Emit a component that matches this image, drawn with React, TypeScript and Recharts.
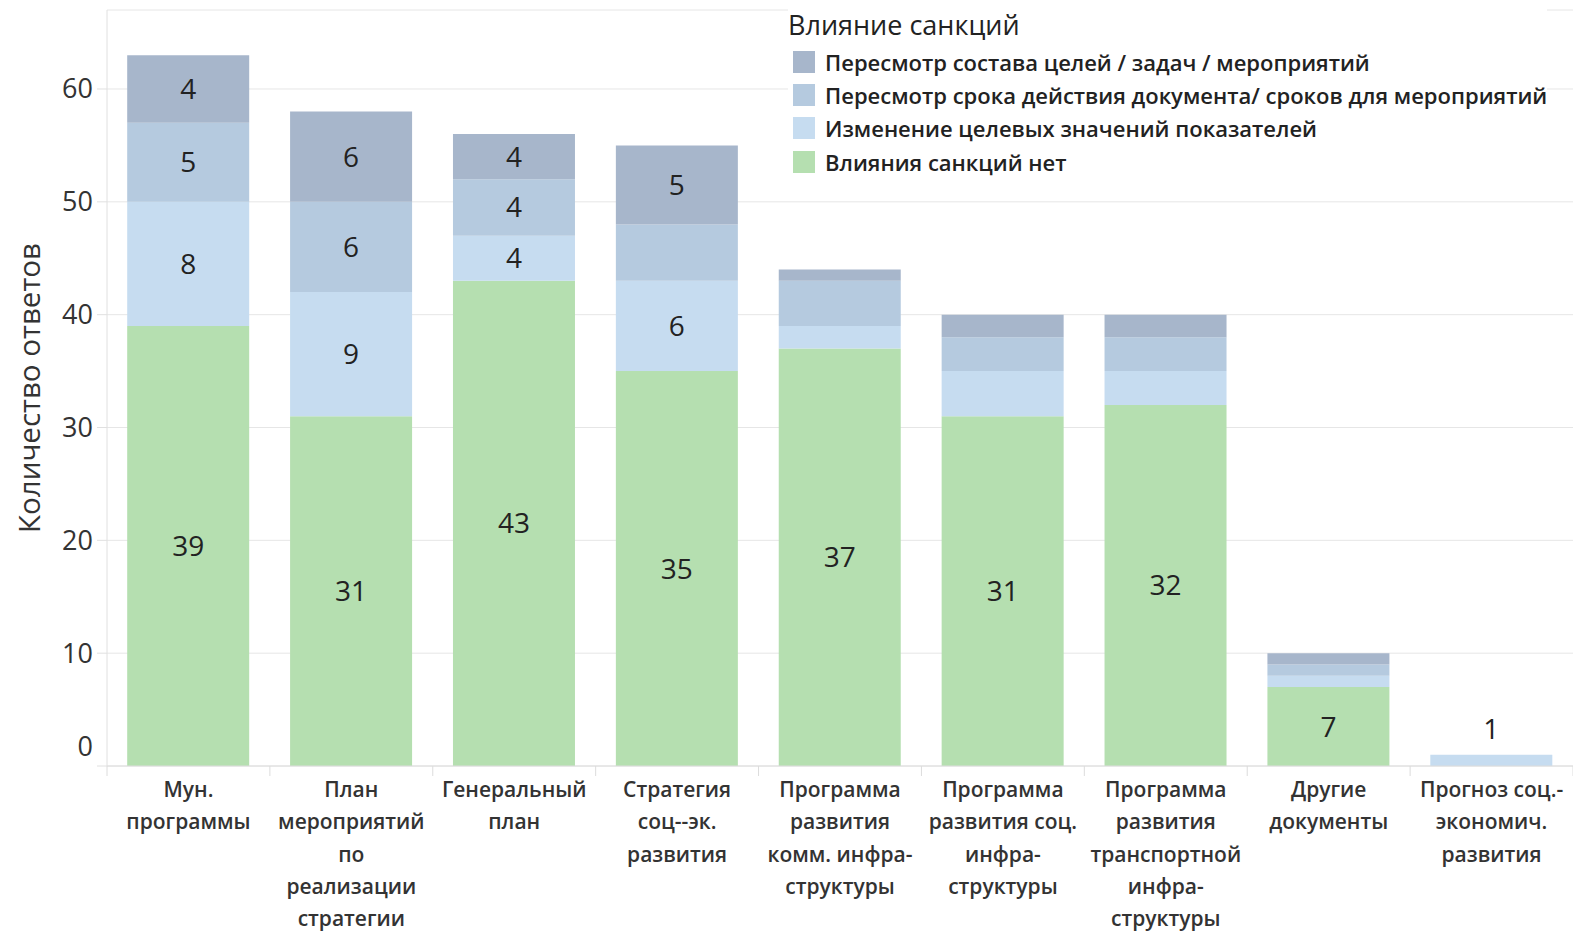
import React from "react";
import { BarChart, Bar, XAxis, YAxis, CartesianGrid, Legend, LabelList, Label } from "recharts";

const categories = [
  "Мун.\nпрограммы",
  "План\nмероприятий\nпо\nреализации\nстратегии",
  "Генеральный\nплан",
  "Стратегия\nсоц--эк.\nразвития",
  "Программа\nразвития\nкомм. инфра-\nструктуры",
  "Программа\nразвития соц.\nинфра-\nструктуры",
  "Программа\nразвития\nтранспортной\nинфра-\nструктуры",
  "Другие\nдокументы",
  "Прогноз соц.-\nэкономич.\nразвития",
];

// segment heights as drawn
const noImpact = [39, 31, 43, 35, 37, 31, 32, 7, 0];
const targetValues = [11, 11, 4, 8, 2, 4, 3, 1, 1];
const termRevision = [7, 8, 5, 5, 4, 3, 3, 1, 0];
const goalsRevision = [6, 8, 4, 7, 1, 2, 2, 1, 0];

// numbers printed on the segments
const noImpactLabels = [39, 31, 43, 35, 37, 31, 32, 7, null];
const targetLabels = [8, 9, 4, 6, null, null, null, null, 1];
const termLabels = [5, 6, 4, null, null, null, null, null, null];
const goalsLabels = [4, 6, 4, 5, null, null, null, null, null];

const yTicks = [0, 10, 20, 30, 40, 50, 60];

// legend order, top to bottom
const legendOrder = [
  "Пересмотр состава целей / задач / мероприятий",
  "Пересмотр срока действия документа/ сроков для мероприятий",
  "Изменение целевых значений показателей",
  "Влияния санкций нет",
];

const data = categories.map((name, i) => ({
  name,
  noImpact: noImpact[i],
  targetValues: targetValues[i],
  termRevision: termRevision[i],
  goalsRevision: goalsRevision[i],
}));

const FONT = "'Open Sans', sans-serif";

const segLabel = (labels: (number | null)[]) => (props: any) => {
  const { x, y, width, height, index } = props;
  const txt = labels[index];
  if (txt == null) return null;
  const above = height < 25;
  const cy = above ? y - 26 : y + height / 2;
  return (
    <text x={x + width / 2} y={cy} dy={10} textAnchor="middle" fontSize={28} fill="#222" fontFamily={FONT}>
      {txt}
    </text>
  );
};

function CategoryTick(props: any) {
  const { x, y, payload, index } = props;
  const half = payload.offset ?? 81.5;
  const lines = String(payload.value).split("\n");
  return (
    <g>
      <line x1={x - half} x2={x - half} y1={y} y2={y + 10} stroke="#dcdcdc" />
      {index === categories.length - 1 && (
        <line x1={x + half} x2={x + half} y1={y} y2={y + 10} stroke="#dcdcdc" />
      )}
      <text x={x} y={y + 31} textAnchor="middle" fontSize={21} fontWeight={600} fill="#333" fontFamily={FONT}>
        {lines.map((l, i) => (
          <tspan key={i} x={x} dy={i === 0 ? 0 : 32.3}>
            {l}
          </tspan>
        ))}
      </text>
    </g>
  );
}

function ValueTick(props: any) {
  const { x, y, payload } = props;
  return (
    <text x={x} y={y + (payload.value === 0 ? -20 : 0)} dy={9.5} textAnchor="end" fontSize={27} fill="#333" fontFamily={FONT}>
      {payload.value}
    </text>
  );
}

const renderLegend = (props: any) => {
  const items = [...(props.payload ?? [])].sort(
    (a: any, b: any) => legendOrder.indexOf(a.value) - legendOrder.indexOf(b.value)
  );
  return (
    <div style={{ background: "#fff", fontFamily: FONT, color: "#222" }}>
      <div style={{ fontSize: 27, lineHeight: "34px" }}>Влияние санкций</div>
      <div style={{ marginTop: 3 }}>
        {items.map((it: any) => (
          <div key={it.value} style={{ display: "flex", alignItems: "center", height: 33.3, paddingLeft: 5 }}>
            <span style={{ width: 22, height: 22, background: it.color, marginRight: 10, display: "inline-block" }} />
            <span style={{ fontSize: 22, fontWeight: 600, whiteSpace: "nowrap" }}>{it.value}</span>
          </div>
        ))}
      </div>
    </div>
  );
};

export default function App() {
  return (
    <div style={{ position: "absolute", left: 0, top: 0, width: 1573, height: 932, background: "#fff" }}>
      <BarChart
        width={1573}
        height={932}
        data={data}
        margin={{ top: 10, right: 0, left: 0, bottom: 0 }}
        barCategoryGap="12.4%"
      >
        <CartesianGrid horizontal vertical={false} stroke="#e6e6e6" />
        <XAxis
          dataKey="name"
          interval={0}
          height={166}
          tickSize={0}
          tickMargin={0}
          tick={<CategoryTick />}
          axisLine={{ stroke: "#dcdcdc" }}
        />
        <YAxis
          width={107}
          domain={[0, 67]}
          ticks={yTicks}
          tickSize={10}
          tickMargin={4}
          tick={<ValueTick />}
          tickLine={{ stroke: "#e0e0e0" }}
          axisLine={{ stroke: "#e0e0e0" }}
        >
          <Label
            content={(p: any) => {
              const vb = p.viewBox;
              const cx = 28;
              const cy = vb.y + vb.height / 2;
              return (
                <text
                  x={cx}
                  y={cy}
                  transform={`rotate(-90 ${cx} ${cy})`}
                  textAnchor="middle"
                  dominantBaseline="central"
                  fontSize={29.5}
                  fill="#333"
                  fontFamily={FONT}
                >
                  Количество ответов
                </text>
              );
            }}
          />
        </YAxis>
        <Legend
          layout="vertical"
          align="center"
          verticalAlign="middle"
          wrapperStyle={{ top: 8, left: 788, width: "auto" }}
          content={renderLegend}
        />
        <Bar dataKey="noImpact" stackId="s" name="Влияния санкций нет" fill="#b5dfb0" isAnimationActive={false}>
          <LabelList dataKey="noImpact" content={segLabel(noImpactLabels)} />
        </Bar>
        <Bar dataKey="targetValues" stackId="s" name="Изменение целевых значений показателей" fill="#c6dcf0" isAnimationActive={false}>
          <LabelList dataKey="targetValues" content={segLabel(targetLabels)} />
        </Bar>
        <Bar dataKey="termRevision" stackId="s" name="Пересмотр срока действия документа/ сроков для мероприятий" fill="#b5cadf" isAnimationActive={false}>
          <LabelList dataKey="termRevision" content={segLabel(termLabels)} />
        </Bar>
        <Bar dataKey="goalsRevision" stackId="s" name="Пересмотр состава целей / задач / мероприятий" fill="#a7b6cb" isAnimationActive={false}>
          <LabelList dataKey="goalsRevision" content={segLabel(goalsLabels)} />
        </Bar>
      </BarChart>
    </div>
  );
}
